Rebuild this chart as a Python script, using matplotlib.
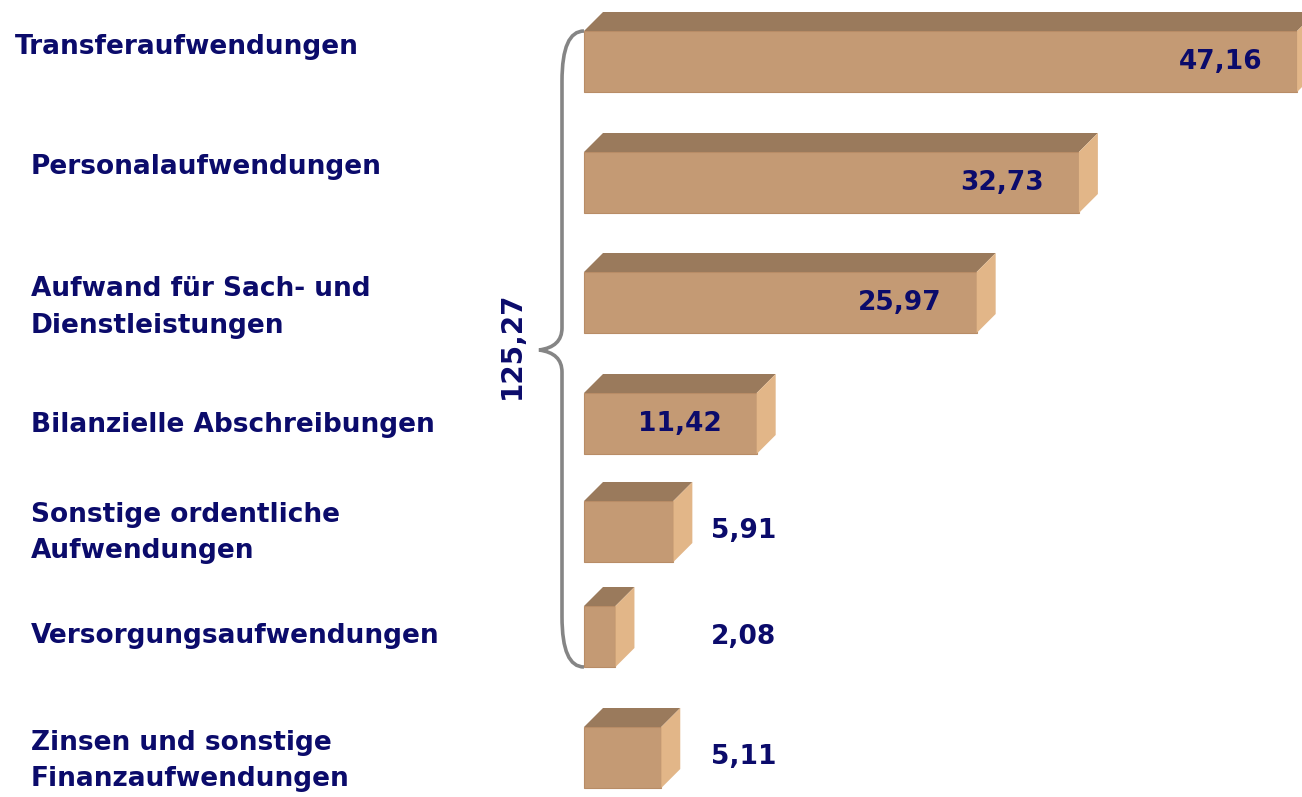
import matplotlib
matplotlib.use("Agg")
import matplotlib.pyplot as plt
from matplotlib.patches import Polygon
from matplotlib.path import Path
from matplotlib.patches import PathPatch

# data
categories = ["Transferaufwendungen", "Personalaufwendungen",
              "Aufwand für Sach- und\nDienstleistungen", "Bilanzielle Abschreibungen",
              "Sonstige ordentliche\nAufwendungen", "Versorgungsaufwendungen",
              "Zinsen und sonstige\nFinanzaufwendungen"]
values = [47.16, 32.73, 25.97, 11.42, 5.91, 2.08, 5.11]
value_labels = ["47,16", "32,73", "25,97", "11,42", "5,91", "2,08", "5,11"]
total_label = "125,27"

# layout (pixel rows, top-down)
bar_top = [31, 152, 272, 393, 501, 606, 727]
bar_h = 61
label_y = [47, 167, 307, 425, 533, 636, 761]
label_x = [15, 31, 31, 31, 31, 31, 31]
px_per_unit = 15.12
x0 = 584
depth_px = 19

navy = "#0b0b6b"
front_c = "#c49a74"
top_c = "#9a7a5c"
side_c = "#e2b688"
fs = 19

fig = plt.figure(figsize=(13.02, 7.97), dpi=100)
ax = fig.add_axes([0, 0, 1, 1])
ax.set_xlim(-x0 / px_per_unit, (1302 - x0) / px_per_unit)
ax.set_ylim(797, 0)
ax.axis("off")

dx = depth_px / px_per_unit
dy = depth_px
centers = [t + bar_h / 2 for t in bar_top]

ax.barh(centers, values, height=bar_h, left=0, color=front_c,
        edgecolor="#b88c66", linewidth=0.8, zorder=3)
for c, v in zip(centers, values):
    top = c - bar_h / 2
    bot = c + bar_h / 2
    ax.add_patch(Polygon([(0, top), (dx, top - dy), (v + dx, top - dy), (v, top)],
                         closed=True, facecolor=top_c, edgecolor="none", zorder=3))
    ax.add_patch(Polygon([(v, top), (v + dx, top - dy), (v + dx, bot - dy), (v, bot)],
                         closed=True, facecolor=side_c, edgecolor="none", zorder=3))

for v, c, lab in zip(values, centers, value_labels):
    if v > 10:
        ax.text(v - 35 / px_per_unit, c, lab, ha="right", va="center",
                fontsize=fs, fontweight="bold", color=navy, zorder=5)
    else:
        ax.text((711 - x0) / px_per_unit, c, lab, ha="left", va="center",
                fontsize=fs, fontweight="bold", color=navy, zorder=5)

for lab, lx, ly in zip(categories, label_x, label_y):
    ax.text((lx - x0) / px_per_unit, ly, lab, ha="left", va="center",
            fontsize=fs, fontweight="bold", color=navy, linespacing=1.55)

# curly brace from first to sixth bar
u = 1 / px_per_unit
xb = 0
xm = -22 * u
xt = -45 * u
y1 = bar_top[0]
y2 = bar_top[5] + bar_h
ym = 350
verts = [(xb, y1), (xm, y1), (xm, y1 + 50),
         (xm, ym - 22), (xm, ym - 3), (xt, ym),
         (xm, ym + 3), (xm, ym + 22),
         (xm, y2 - 50), (xm, y2), (xb, y2)]
codes = [Path.MOVETO, Path.CURVE3, Path.CURVE3,
         Path.LINETO, Path.CURVE3, Path.CURVE3,
         Path.CURVE3, Path.CURVE3,
         Path.LINETO, Path.CURVE3, Path.CURVE3]
ax.add_patch(PathPatch(Path(verts, codes), facecolor="none",
                       edgecolor="#858585", linewidth=2.6, zorder=2))
ax.text(-72 * u, 345, total_label, rotation=90, ha="center", va="center",
        fontsize=20, fontweight="bold", color=navy)

fig.savefig("out.png", dpi=100)
